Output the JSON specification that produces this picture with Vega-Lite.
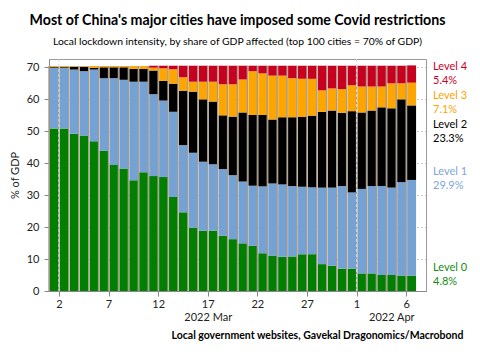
{
  "$schema": "https://vega.github.io/schema/vega-lite/v6.json",
  "width": 377,
  "height": 232,
  "autosize": "none",
  "padding": {"left": 49, "top": 59, "right": 54, "bottom": 69},
  "background": "white",
  "title": {
    "text": "Most of China's major cities have imposed some Covid restrictions",
    "subtitle": "Local lockdown intensity, by share of GDP affected (top 100 cities = 70% of GDP)",
    "anchor": "middle",
    "font": "Lato",
    "fontSize": 14.2,
    "fontWeight": "bold",
    "color": "#000",
    "subtitleFont": "Lato",
    "subtitleFontSize": 10.4,
    "subtitleColor": "#000",
    "subtitlePadding": 9,
    "offset": 11
  },
  "config": {
    "view": {"stroke": "#999", "strokeWidth": 1},
    "font": "Lato",
    "axis": {"labelFont": "Lato", "titleFont": "Lato", "labelColor": "#222", "domainColor": "#888", "tickColor": "#888"},
    "axisY": {"tickCount": 8, "labelFontSize": 11, "tickSize": 5, "labelPadding": 5,
              "grid": true, "gridDash": [1, 3], "gridColor": "#999",
              "titleFontSize": 11, "titleFontWeight": "normal", "titleColor": "#222", "titlePadding": 6}
  },
  "data": {
    "values": [
      {"date": "2022-03-01", "Level 0": 50.8, "Level 1": 19.0, "Level 2": 0.2, "Level 3": 0.3, "Level 4": 0},
      {"date": "2022-03-02", "Level 0": 50.8, "Level 1": 19.0, "Level 2": 0.2, "Level 3": 0.3, "Level 4": 0},
      {"date": "2022-03-03", "Level 0": 49.1, "Level 1": 20.1, "Level 2": 0.9, "Level 3": 0.2, "Level 4": 0},
      {"date": "2022-03-04", "Level 0": 48.6, "Level 1": 20.1, "Level 2": 1.4, "Level 3": 0.2, "Level 4": 0},
      {"date": "2022-03-05", "Level 0": 46.8, "Level 1": 22.4, "Level 2": 0.5, "Level 3": 0.6, "Level 4": 0},
      {"date": "2022-03-06", "Level 0": 43.8, "Level 1": 22.7, "Level 2": 3.4, "Level 3": 0.4, "Level 4": 0},
      {"date": "2022-03-07", "Level 0": 39.4, "Level 1": 27.1, "Level 2": 3.4, "Level 3": 0.4, "Level 4": 0},
      {"date": "2022-03-08", "Level 0": 38.3, "Level 1": 27.7, "Level 2": 3.9, "Level 3": 0.4, "Level 4": 0},
      {"date": "2022-03-09", "Level 0": 34.6, "Level 1": 30.8, "Level 2": 4.0, "Level 3": 0.9, "Level 4": 0},
      {"date": "2022-03-10", "Level 0": 37.1, "Level 1": 28.3, "Level 2": 4.0, "Level 3": 0.9, "Level 4": 0},
      {"date": "2022-03-11", "Level 0": 35.9, "Level 1": 25.6, "Level 2": 7.4, "Level 3": 0.9, "Level 4": 0.6},
      {"date": "2022-03-12", "Level 0": 35.6, "Level 1": 23.9, "Level 2": 6.2, "Level 3": 3.9, "Level 4": 0.8},
      {"date": "2022-03-13", "Level 0": 29.4, "Level 1": 26.6, "Level 2": 8.8, "Level 3": 4.5, "Level 4": 1.1},
      {"date": "2022-03-14", "Level 0": 24.6, "Level 1": 21.0, "Level 2": 17.0, "Level 3": 4.2, "Level 4": 3.6},
      {"date": "2022-03-15", "Level 0": 19.8, "Level 1": 23.4, "Level 2": 19.1, "Level 3": 3.1, "Level 4": 5.0},
      {"date": "2022-03-16", "Level 0": 18.8, "Level 1": 21.6, "Level 2": 19.5, "Level 3": 5.5, "Level 4": 5.0},
      {"date": "2022-03-17", "Level 0": 18.8, "Level 1": 20.8, "Level 2": 19.6, "Level 3": 6.2, "Level 4": 5.0},
      {"date": "2022-03-18", "Level 0": 17.3, "Level 1": 20.8, "Level 2": 16.8, "Level 3": 9.7, "Level 4": 5.8},
      {"date": "2022-03-19", "Level 0": 16.2, "Level 1": 20.0, "Level 2": 18.3, "Level 3": 10.1, "Level 4": 5.8},
      {"date": "2022-03-20", "Level 0": 14.9, "Level 1": 19.3, "Level 2": 21.6, "Level 3": 10.3, "Level 4": 4.3},
      {"date": "2022-03-21", "Level 0": 14.1, "Level 1": 18.8, "Level 2": 22.1, "Level 3": 13.7, "Level 4": 1.7},
      {"date": "2022-03-22", "Level 0": 11.8, "Level 1": 20.9, "Level 2": 22.3, "Level 3": 13.0, "Level 4": 2.4},
      {"date": "2022-03-23", "Level 0": 11.1, "Level 1": 22.5, "Level 2": 20.0, "Level 3": 13.7, "Level 4": 3.1},
      {"date": "2022-03-24", "Level 0": 10.7, "Level 1": 22.6, "Level 2": 21.0, "Level 3": 13.0, "Level 4": 3.1},
      {"date": "2022-03-25", "Level 0": 10.8, "Level 1": 22.0, "Level 2": 21.5, "Level 3": 12.2, "Level 4": 3.9},
      {"date": "2022-03-26", "Level 0": 11.5, "Level 1": 21.1, "Level 2": 21.8, "Level 3": 11.9, "Level 4": 4.1},
      {"date": "2022-03-27", "Level 0": 11.5, "Level 1": 20.9, "Level 2": 22.4, "Level 3": 11.5, "Level 4": 4.1},
      {"date": "2022-03-28", "Level 0": 8.4, "Level 1": 23.9, "Level 2": 23.7, "Level 3": 6.7, "Level 4": 7.7},
      {"date": "2022-03-29", "Level 0": 7.9, "Level 1": 24.4, "Level 2": 24.1, "Level 3": 6.9, "Level 4": 7.1},
      {"date": "2022-03-30", "Level 0": 7.0, "Level 1": 25.8, "Level 2": 22.9, "Level 3": 7.4, "Level 4": 7.3},
      {"date": "2022-03-31", "Level 0": 7.0, "Level 1": 23.8, "Level 2": 25.4, "Level 3": 8.1, "Level 4": 6.1},
      {"date": "2022-04-01", "Level 0": 5.5, "Level 1": 26.4, "Level 2": 23.9, "Level 3": 8.1, "Level 4": 6.5},
      {"date": "2022-04-02", "Level 0": 5.5, "Level 1": 27.3, "Level 2": 23.6, "Level 3": 7.5, "Level 4": 6.5},
      {"date": "2022-04-03", "Level 0": 5.0, "Level 1": 27.8, "Level 2": 24.6, "Level 3": 6.5, "Level 4": 6.5},
      {"date": "2022-04-04", "Level 0": 5.0, "Level 1": 27.3, "Level 2": 24.8, "Level 3": 7.8, "Level 4": 5.5},
      {"date": "2022-04-05", "Level 0": 4.8, "Level 1": 29.2, "Level 2": 25.9, "Level 3": 5.0, "Level 4": 5.5},
      {"date": "2022-04-06", "Level 0": 4.8, "Level 1": 29.9, "Level 2": 23.3, "Level 3": 7.1, "Level 4": 5.4}
    ]
  },
  "transform": [
    {"fold": ["Level 0", "Level 1", "Level 2", "Level 3", "Level 4"], "as": ["level", "value"]}
  ],
  "resolve": {"axis": {"x": "independent"}},
  "layer": [
    {
      "mark": {"type": "bar", "timeUnitBandSize": 1, "timeUnitBandPosition": 0},
      "encoding": {
        "x": {"field": "date", "timeUnit": "utcyearmonthdate", "type": "temporal",
              "scale": {"domain": [{"year": 2022, "month": 3, "date": 1, "utc": true}, {"year": 2022, "month": 4, "date": 8, "utc": true}]},
              "axis": {
                "orient": "bottom",
                "values": [
                  {"year": 2022, "month": 3, "date": 2, "utc": true},
                  {"year": 2022, "month": 3, "date": 7, "utc": true},
                  {"year": 2022, "month": 3, "date": 12, "utc": true},
                  {"year": 2022, "month": 3, "date": 17, "utc": true},
                  {"year": 2022, "month": 3, "date": 22, "utc": true},
                  {"year": 2022, "month": 3, "date": 27, "utc": true},
                  {"year": 2022, "month": 4, "date": 1, "utc": true},
                  {"year": 2022, "month": 4, "date": 6, "utc": true}
                ],
                "labelExpr": "utcFormat(datum.value, '%-d')",
                "labelFontSize": 11, "tickSize": 5, "labelPadding": 2, "grid": false,
                "title": "Local government websites, Gavekal Dragonomics/Macrobond",
                "titleFontSize": 10.5, "titleFontWeight": "bold", "titleColor": "#000",
                "titleAnchor": "end", "titleAlign": "right", "titleX": 414, "titleY": 44, "titleBaseline": "middle"
              }},
        "y": {"field": "value", "type": "quantitative", "stack": "zero", "title": "% of GDP",
              "scale": {"domain": [0, 72.5], "nice": false}},
        "color": {"field": "level", "type": "nominal", "legend": null,
                  "scale": {"domain": ["Level 0", "Level 1", "Level 2", "Level 3", "Level 4"],
                            "range": ["#007f00", "#75a2d5", "#000000", "#ffa500", "#c8001f"]}},
        "order": {"field": "level", "sort": "ascending"}
      }
    },
    {
      "mark": {"type": "rule", "color": "#a89a8a", "strokeWidth": 1.4},
      "encoding": {
        "x": {"field": "date", "type": "temporal", "axis": null},
        "y": {"aggregate": "sum", "field": "value", "type": "quantitative", "title": "% of GDP"},
        "y2": {"datum": 0}
      }
    },
    {
      "data": {"values": [{"date": "2022-03-02"}, {"date": "2022-04-01"}]},
      "mark": {"type": "rule", "color": "#d8d8d8", "strokeDash": [3, 2], "strokeWidth": 1},
      "encoding": {
        "x": {"field": "date", "type": "temporal",
              "axis": {
                "orient": "bottom",
                "values": [
                  {"year": 2022, "month": 3, "date": 17, "utc": true},
                  {"year": 2022, "month": 4, "date": 4, "hours": 12, "utc": true}
                ],
                "labelExpr": "utcFormat(datum.value, '%Y %b')",
                "labelFontSize": 11, "ticks": false, "domain": false, "grid": false, "labelPadding": 20, "title": null
              }}
      }
    },
    {
      "data": {"values": [{}]},
      "mark": {"type": "text", "text": ["Level 4", "5.4%"], "align": "left", "baseline": "top", "dx": 7, "fontSize": 11, "lineHeight": 14, "color": "#c8002a"},
      "encoding": {
        "x": {"datum": {"year": 2022, "month": 4, "date": 8, "utc": true}, "type": "temporal", "axis": null},
        "y": {"datum": 71.9}
      }
    },
    {
      "data": {"values": [{}]},
      "mark": {"type": "text", "text": ["Level 3", "7.1%"], "align": "left", "baseline": "top", "dx": 7, "fontSize": 11, "lineHeight": 14, "color": "#ffa500"},
      "encoding": {
        "x": {"datum": {"year": 2022, "month": 4, "date": 8, "utc": true}, "type": "temporal", "axis": null},
        "y": {"datum": 62.8}
      }
    },
    {
      "data": {"values": [{}]},
      "mark": {"type": "text", "text": ["Level 2", "23.3%"], "align": "left", "baseline": "top", "dx": 7, "fontSize": 11, "lineHeight": 14, "color": "#000000"},
      "encoding": {
        "x": {"datum": {"year": 2022, "month": 4, "date": 8, "utc": true}, "type": "temporal", "axis": null},
        "y": {"datum": 53.75}
      }
    },
    {
      "data": {"values": [{}]},
      "mark": {"type": "text", "text": ["Level 1", "29.9%"], "align": "left", "baseline": "top", "dx": 7, "fontSize": 11, "lineHeight": 14, "color": "#7ea6d8"},
      "encoding": {
        "x": {"datum": {"year": 2022, "month": 4, "date": 8, "utc": true}, "type": "temporal", "axis": null},
        "y": {"datum": 39.1}
      }
    },
    {
      "data": {"values": [{}]},
      "mark": {"type": "text", "text": ["Level 0", "4.8%"], "align": "left", "baseline": "top", "dx": 7, "fontSize": 11, "lineHeight": 14, "color": "#138c13"},
      "encoding": {
        "x": {"datum": {"year": 2022, "month": 4, "date": 8, "utc": true}, "type": "temporal", "axis": null},
        "y": {"datum": 9.06}
      }
    }
  ]
}
